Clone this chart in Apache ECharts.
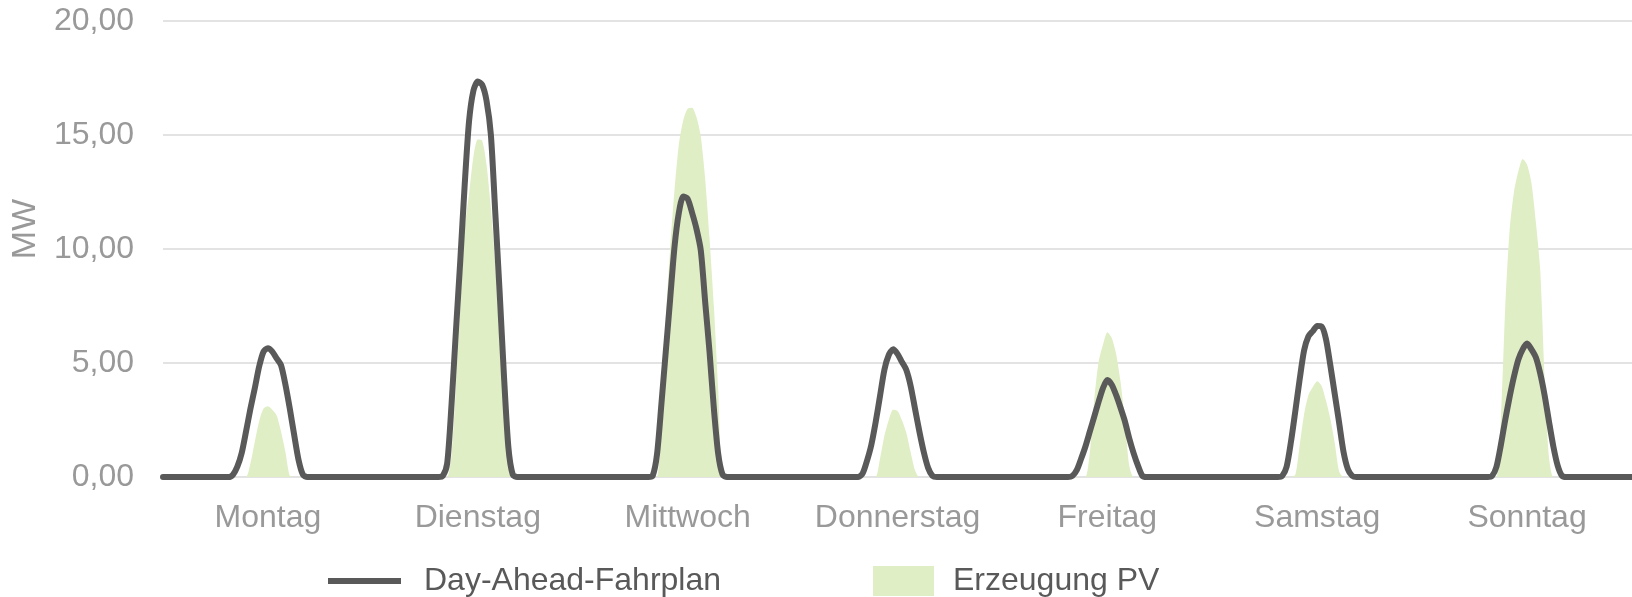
<!DOCTYPE html>
<html>
<head>
<meta charset="utf-8">
<script src="https://cdn.jsdelivr.net/npm/echarts@6/dist/echarts.min.js"></script>
<style>
  html, body { margin: 0; padding: 0; background: #fff; }
  #chart { width: 1632px; height: 597px; }
</style>
</head>
<body>
<div id="chart"></div>
<script>
// Wochentage (x-Achse)
const days = ["Montag", "Dienstag", "Mittwoch", "Donnerstag", "Freitag", "Samstag", "Sonntag"];

// Halbstundenwerte je Tag von 07:30 bis 16:30, ausserhalb 0 MW
const firstSampleHour = 7.5;
const sampleStep = 0.5;

// Day-Ahead-Fahrplan in MW
const planMontag     = [0, 0.1, 0.45, 1.05, 2.0, 3.0, 3.9, 4.85, 5.5, 5.65, 5.5, 5.2, 4.9, 4.05, 3.0, 1.85, 0.75, 0.1, 0];
const planDienstag   = [0, 0.05, 0.6, 3.2, 6.4, 9.5, 12.8, 15.6, 16.95, 17.35, 17.2, 16.5, 15.0, 11.6, 8.1, 4.4, 1.3, 0.1, 0];
const planMittwoch   = [0, 0.05, 1.0, 3.2, 5.5, 7.8, 10.1, 11.6, 12.3, 12.2, 11.6, 10.9, 9.95, 7.7, 5.5, 3.0, 1.0, 0.1, 0];
const planDonnerstag = [0, 0.15, 0.7, 1.4, 2.4, 3.55, 4.7, 5.35, 5.6, 5.4, 5.05, 4.7, 4.0, 3.0, 2.0, 1.1, 0.4, 0.05, 0];
const planFreitag    = [0, 0.05, 0.3, 0.8, 1.35, 2.0, 2.65, 3.3, 3.9, 4.25, 4.05, 3.6, 3.05, 2.45, 1.7, 1.05, 0.5, 0.05, 0];
const planSamstag    = [0, 0.05, 0.45, 1.55, 2.9, 4.3, 5.55, 6.17, 6.4, 6.62, 6.6, 6.05, 4.9, 3.65, 2.4, 1.12, 0.35, 0.05, 0];
const planSonntag    = [0, 0.05, 0.45, 1.4, 2.5, 3.5, 4.4, 5.15, 5.6, 5.85, 5.6, 5.25, 4.55, 3.6, 2.45, 1.35, 0.5, 0.05, 0];

// Erzeugung PV in MW
const pvMontag     = [0, 0, 0, 0, 0, 0.6, 1.55, 2.45, 3.0, 3.1, 2.95, 2.7, 2.0, 1.1, 0.05, 0, 0, 0, 0];
const pvDienstag   = [0, 0, 0, 1.0, 4.0, 7.4, 10.9, 12.4, 14.05, 14.8, 14.75, 13.7, 11.8, 9.3, 6.0, 2.8, 0.6, 0, 0];
const pvMittwoch   = [0, 0, 0, 2.5, 6.9, 10.0, 12.6, 14.6, 15.65, 16.15, 16.2, 15.8, 14.95, 13.1, 10.5, 7.5, 3.8, 0, 0];
const pvDonnerstag = [0, 0, 0, 0, 0, 0.8, 1.8, 2.5, 2.95, 2.9, 2.5, 1.95, 1.1, 0.3, 0, 0, 0, 0, 0];
const pvFreitag    = [0, 0, 0, 0, 0, 1.1, 3.4, 5.05, 5.8, 6.35, 6.1, 5.4, 4.2, 2.5, 0.5, 0, 0, 0, 0];
const pvSamstag    = [0, 0, 0, 0, 0.1, 1.4, 2.75, 3.6, 3.95, 4.2, 4.0, 3.35, 2.55, 1.5, 0.25, 0, 0, 0, 0];
const pvSonntag    = [0, 0, 0, 2.5, 7.4, 10.8, 12.5, 13.4, 13.95, 13.7, 12.9, 11.2, 9.1, 4.4, 0.9, 0, 0, 0, 0];

const planDays = [planMontag, planDienstag, planMittwoch, planDonnerstag, planFreitag, planSamstag, planSonntag];
const pvDays = [pvMontag, pvDienstag, pvMittwoch, pvDonnerstag, pvFreitag, pvSamstag, pvSonntag];

// [Stunde der Woche, MW]
function toWeekPoints(dayArrays) {
  const pts = [];
  dayArrays.forEach((vals, d) => {
    const base = d * 24;
    pts.push([base, 0]);
    vals.forEach((v, i) => pts.push([base + firstSampleHour + i * sampleStep, v]));
    pts.push([base + 24, 0]);
  });
  return pts;
}

const lineColor = "#595959";
const pvColor = "#dfeec5";
const axisTextColor = "#999999";
const fontFamily = "'Liberation Sans', Arial, sans-serif";

const chart = echarts.init(document.getElementById("chart"));

const option = {
  animation: false,
  textStyle: { fontFamily: fontFamily },
  grid: {
    left: 163,
    right: 0,
    top: 21,
    bottom: 120,
    outerBoundsMode: "none",
  },
  legend: [
    {
      data: [{ name: "Day-Ahead-Fahrplan", icon: "rect", itemStyle: { color: lineColor } }],
      left: 328,
      top: 565,
      padding: 0,
      itemWidth: 73,
      itemHeight: 6,
      selectedMode: false,
      textStyle: { fontSize: 32, color: lineColor, fontFamily: fontFamily, padding: [0, 0, 0, 18] },
    },
    {
      data: [{ name: "Erzeugung PV", icon: "rect", itemStyle: { color: pvColor } }],
      left: 873,
      top: 565,
      padding: 0,
      itemWidth: 61,
      itemHeight: 30,
      selectedMode: false,
      textStyle: { fontSize: 32, color: lineColor, fontFamily: fontFamily, padding: [0, 0, 0, 14] },
    },
  ],
  xAxis: {
    type: "value",
    min: 0,
    max: days.length * 24,
    interval: 12,
    axisLine: { show: false },
    axisTick: { show: false },
    splitLine: { show: false },
    axisLabel: {
      margin: 25,
      fontSize: 32,
      color: axisTextColor,
      fontFamily: fontFamily,
      formatter: (value) => (value % 24 === 12 ? days[(value - 12) / 24] : ""),
    },
  },
  yAxis: {
    type: "value",
    min: 0,
    max: 20,
    interval: 5,
    name: "MW",
    nameLocation: "middle",
    nameGap: 120,
    nameTextStyle: { fontSize: 34, color: axisTextColor, fontFamily: fontFamily, padding: [0, 0, 0, 40] },
    axisLine: { show: false },
    axisTick: { show: false },
    splitLine: { lineStyle: { color: "#e3e3e3", width: 2 } },
    axisLabel: {
      margin: 29,
      fontSize: 32,
      color: axisTextColor,
      fontFamily: fontFamily,
      formatter: (value) => value.toFixed(2).replace(".", ","),
    },
  },
  series: [
    {
      name: "Erzeugung PV",
      type: "line",
      data: toWeekPoints(pvDays),
      showSymbol: false,
      symbol: "none",
      smooth: 0.25,
      lineStyle: { width: 0, color: pvColor },
      itemStyle: { color: pvColor },
      areaStyle: { color: pvColor, opacity: 1 },
      z: 2,
    },
    {
      name: "Day-Ahead-Fahrplan",
      type: "line",
      data: toWeekPoints(planDays),
      showSymbol: false,
      symbol: "none",
      smooth: 0.25,
      lineStyle: { width: 6, color: lineColor, join: "round", cap: "round" },
      itemStyle: { color: lineColor },
      z: 3,
    },
  ],
};

chart.setOption(option);

window.addEventListener("resize", () => chart.resize());
</script>
</body>
</html>
